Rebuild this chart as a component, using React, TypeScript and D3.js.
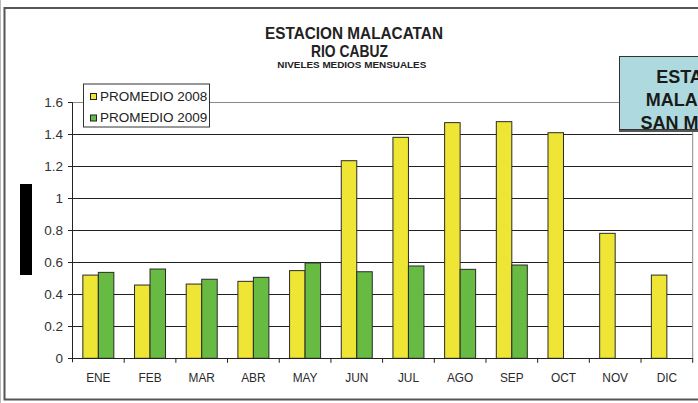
import React from "react";
import * as d3 from "d3";

const months = ["ENE", "FEB", "MAR", "ABR", "MAY", "JUN", "JUL", "AGO", "SEP", "OCT", "NOV", "DIC"];
const prom2008 = [0.52, 0.458, 0.464, 0.481, 0.548, 1.235, 1.381, 1.473, 1.479, 1.41, 0.781, 0.52];
const prom2009: (number | null)[] = [0.537, 0.558, 0.494, 0.506, 0.596, 0.541, 0.577, 0.556, 0.583, null, null, null];
const yTicks = [0, 0.2, 0.4, 0.6, 0.8, 1, 1.2, 1.4, 1.6];
const seriesNames = ["PROMEDIO 2008", "PROMEDIO 2009"];
const seriesColors = ["#EFE535", "#67BA42"];
const titleLines = ["ESTACION MALACATAN", "RIO CABUZ"];
const subtitle = "NIVELES MEDIOS MENSUALES";
const boxLines = ["ESTACION", "MALACATAN", "SAN MARCOS"];

const W = 698;
const H = 403;
const left = 72.5;
const right = 692.7;
const top = 102.3;
const bottom = 358.3;

export default function App() {
  const x = d3.scaleBand<string>().domain(months).range([left, right]).padding(0);
  const inner = d3.scaleBand<string>().domain(["a", "b"]).range([0, x.bandwidth()]).paddingInner(0).paddingOuter(0.667);
  const y = d3.scaleLinear().domain([0, 1.6]).range([bottom, top]);
  const font = "'Liberation Sans', Arial, sans-serif";
  const fmt = (d: number) => String(+d.toFixed(1));

  return (
    <div style={{ position: "fixed", left: 0, top: 0 }}>
      <svg width={W} height={H} style={{ display: "block", background: "#fff" }} fontFamily={font}>
        {/* outer frame */}
        <line x1={0.5} y1={0} x2={0.5} y2={H} stroke="#bbb" strokeWidth={1} />
        <rect x={4.5} y={8} width={W + 20} height={391.5} fill="#fff" stroke="#555" strokeWidth={2} />

        {/* titles */}
        <text x={265} y={39.3} fontSize={16.5} fontWeight="bold" fill="#222" textLength={178} lengthAdjust="spacingAndGlyphs">{titleLines[0]}</text>
        <text x={311} y={56.7} fontSize={16.5} fontWeight="bold" fill="#222" textLength={77} lengthAdjust="spacingAndGlyphs">{titleLines[1]}</text>
        <text x={277.3} y={68.3} fontSize={9} fontWeight="bold" fill="#222" textLength={149} lengthAdjust="spacingAndGlyphs">{subtitle}</text>

        {/* black bar (y-axis title) */}
        <rect x={20} y={184} width={12} height={91} fill="#000" />

        {/* gridlines */}
        {yTicks.map((t) => (
          <line key={"g" + t} x1={left} x2={right} y1={Math.round(y(t)) + 0.5} y2={Math.round(y(t)) + 0.5}
            stroke={t === 1.6 ? "#8a8a8a" : "#222"} strokeWidth={1} />
        ))}
        {/* plot right border */}
        <line x1={right} x2={right} y1={top} y2={bottom} stroke="#8a8a8a" strokeWidth={1} />

        {/* bars */}
        {months.map((m, i) => (
          <g key={m}>
            <rect x={(x(m) as number) + (inner("a") as number)} y={y(prom2008[i])} width={inner.bandwidth()}
              height={y(0) - y(prom2008[i])} fill={seriesColors[0]} stroke="#2a2a2a" strokeWidth={1} />
            {prom2009[i] != null && (
              <rect x={(x(m) as number) + (inner("b") as number)} y={y(prom2009[i] as number)} width={inner.bandwidth()}
                height={y(0) - y(prom2009[i] as number)} fill={seriesColors[1]} stroke="#2a2a2a" strokeWidth={1} />
            )}
          </g>
        ))}

        {/* y axis */}
        <line x1={left} x2={left} y1={top} y2={bottom + 4} stroke="#222" strokeWidth={1} />
        {yTicks.map((t) => (
          <g key={"t" + t}>
            <line x1={left - 4.5} x2={left} y1={Math.round(y(t)) + 0.5} y2={Math.round(y(t)) + 0.5} stroke="#222" />
            <text x={63} y={y(t) + 5} textAnchor="end" fontSize={13.5} fill="#333">{fmt(t)}</text>
          </g>
        ))}

        {/* x axis */}
        <line x1={left} x2={right} y1={Math.round(bottom) + 0.5} y2={Math.round(bottom) + 0.5} stroke="#222" />
        {months.map((m) => (
          <line key={"xt" + m} x1={(x(m) as number) + x.bandwidth()} x2={(x(m) as number) + x.bandwidth()}
            y1={bottom} y2={bottom + 4.5} stroke="#222" />
        ))}
        {months.map((m) => (
          <text key={"xl" + m} transform={`translate(${(x(m) as number) + x.bandwidth() / 2},${382}) scale(0.88,1)`}
            textAnchor="middle" fontSize={13.5} fill="#2a2a2a">{m}</text>
        ))}

        {/* legend */}
        <rect x={83.5} y={84} width={126} height={43} fill="#fff" stroke="#333" strokeWidth={1} />
        {seriesNames.map((s, i) => (
          <g key={s}>
            <rect x={90.5} y={93.5 + i * 21.5} width={6} height={6} fill={seriesColors[i]} stroke="#222" strokeWidth={1} />
            <text x={100} y={100.5 + i * 21.5} fontSize={13.5} fill="#222">{s}</text>
          </g>
        ))}

        {/* teal box */}
        <rect x={619} y={58} width={100} height={74} fill="#555" />
        <rect x={619.5} y={56.5} width={100} height={73} fill="#AEDADF" stroke="#333" strokeWidth={1} />
        {boxLines.map((l, i) => (
          <text key={l} x={702} y={82.7 + i * 23} textAnchor="middle" fontSize={18} fontWeight="bold" fill="#1a1a1a">{l}</text>
        ))}
      </svg>
    </div>
  );
}
